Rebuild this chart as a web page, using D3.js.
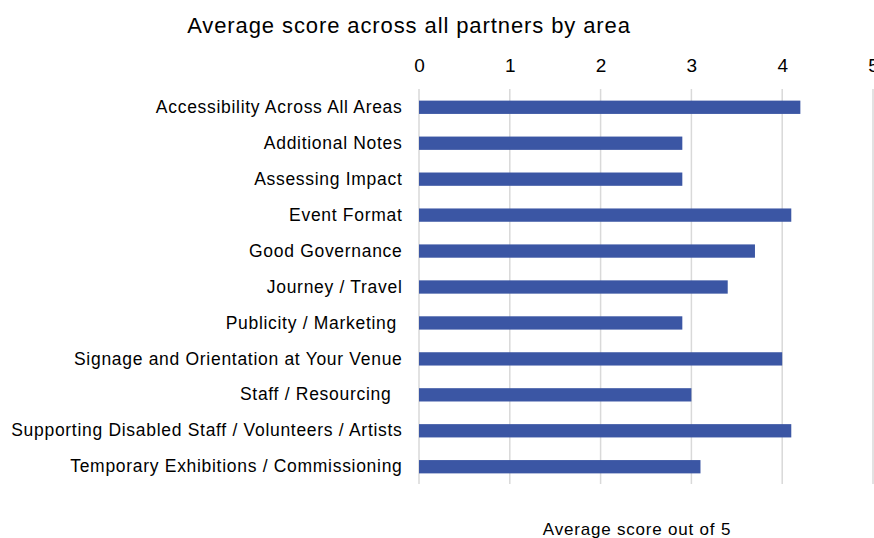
<!DOCTYPE html>
<html><head><meta charset="utf-8">
<script src="https://cdn.jsdelivr.net/npm/d3@7"></script>
<style>body{margin:0;background:#fff}svg{display:block}text{font-family:"Liberation Sans",Arial,sans-serif;white-space:pre}</style>
</head><body><svg id="c" width="874" height="538"></svg>
<script>
const categories = ["Accessibility Across All Areas","Additional Notes","Assessing Impact","Event Format","Good Governance","Journey / Travel","Publicity / Marketing ","Signage and Orientation at Your Venue","Staff / Resourcing  ","Supporting Disabled Staff / Volunteers / Artists","Temporary Exhibitions / Commissioning"];
const values = [4.2,2.9,2.9,4.1,3.7,3.4,2.9,4.0,3.0,4.1,3.1];
const ticks = [0,1,2,3,4,5];
const title = "Average score across all partners by area";
const xTitle = "Average score out of 5";

const svg = d3.select("#c");
const x = d3.scaleLinear().domain([0,5]).range([419,873]);
const y = d3.scaleBand().domain(categories).range([89.3,484.7]).paddingInner(0.63).paddingOuter(0.315);

svg.append("g").selectAll("line").data(ticks).join("line")
  .attr("x1",d=>x(d)).attr("x2",d=>x(d)).attr("y1",89).attr("y2",484)
  .attr("stroke","#d9d9d9").attr("stroke-width",1.5);

svg.append("g").selectAll("rect").data(values).join("rect")
  .attr("x",x(0)).attr("y",(d,i)=>y(categories[i]))
  .attr("width",d=>x(d)-x(0)).attr("height",y.bandwidth())
  .attr("fill","#3b56a4");

const ax = d3.axisTop(x).tickValues(ticks).tickSize(0).tickPadding(0).tickFormat(d3.format("d"));
const gx = svg.append("g").attr("transform","translate(0,72)").call(ax);
gx.select(".domain").remove();
gx.selectAll("text").attr("font-size",19).attr("fill","#000").attr("font-family","Liberation Sans, Arial, sans-serif");

const ay = d3.axisLeft(y).tickSize(0).tickPadding(16.5);
const gy = svg.append("g").attr("transform","translate(419,0)").call(ay);
gy.select(".domain").remove();
gy.selectAll("text").attr("font-size",17.5).attr("fill","#000").attr("letter-spacing",0.7)
  .attr("font-family","Liberation Sans, Arial, sans-serif").style("white-space","pre");

svg.append("text").attr("x",409).attr("y",33).attr("text-anchor","middle").attr("font-size",22)
  .attr("letter-spacing",0.9).attr("fill","#000").text(title);
svg.append("text").attr("x",637).attr("y",535).attr("text-anchor","middle").attr("font-size",17)
  .attr("letter-spacing",0.8).attr("fill","#000").text(xTitle);
</script></body></html>
